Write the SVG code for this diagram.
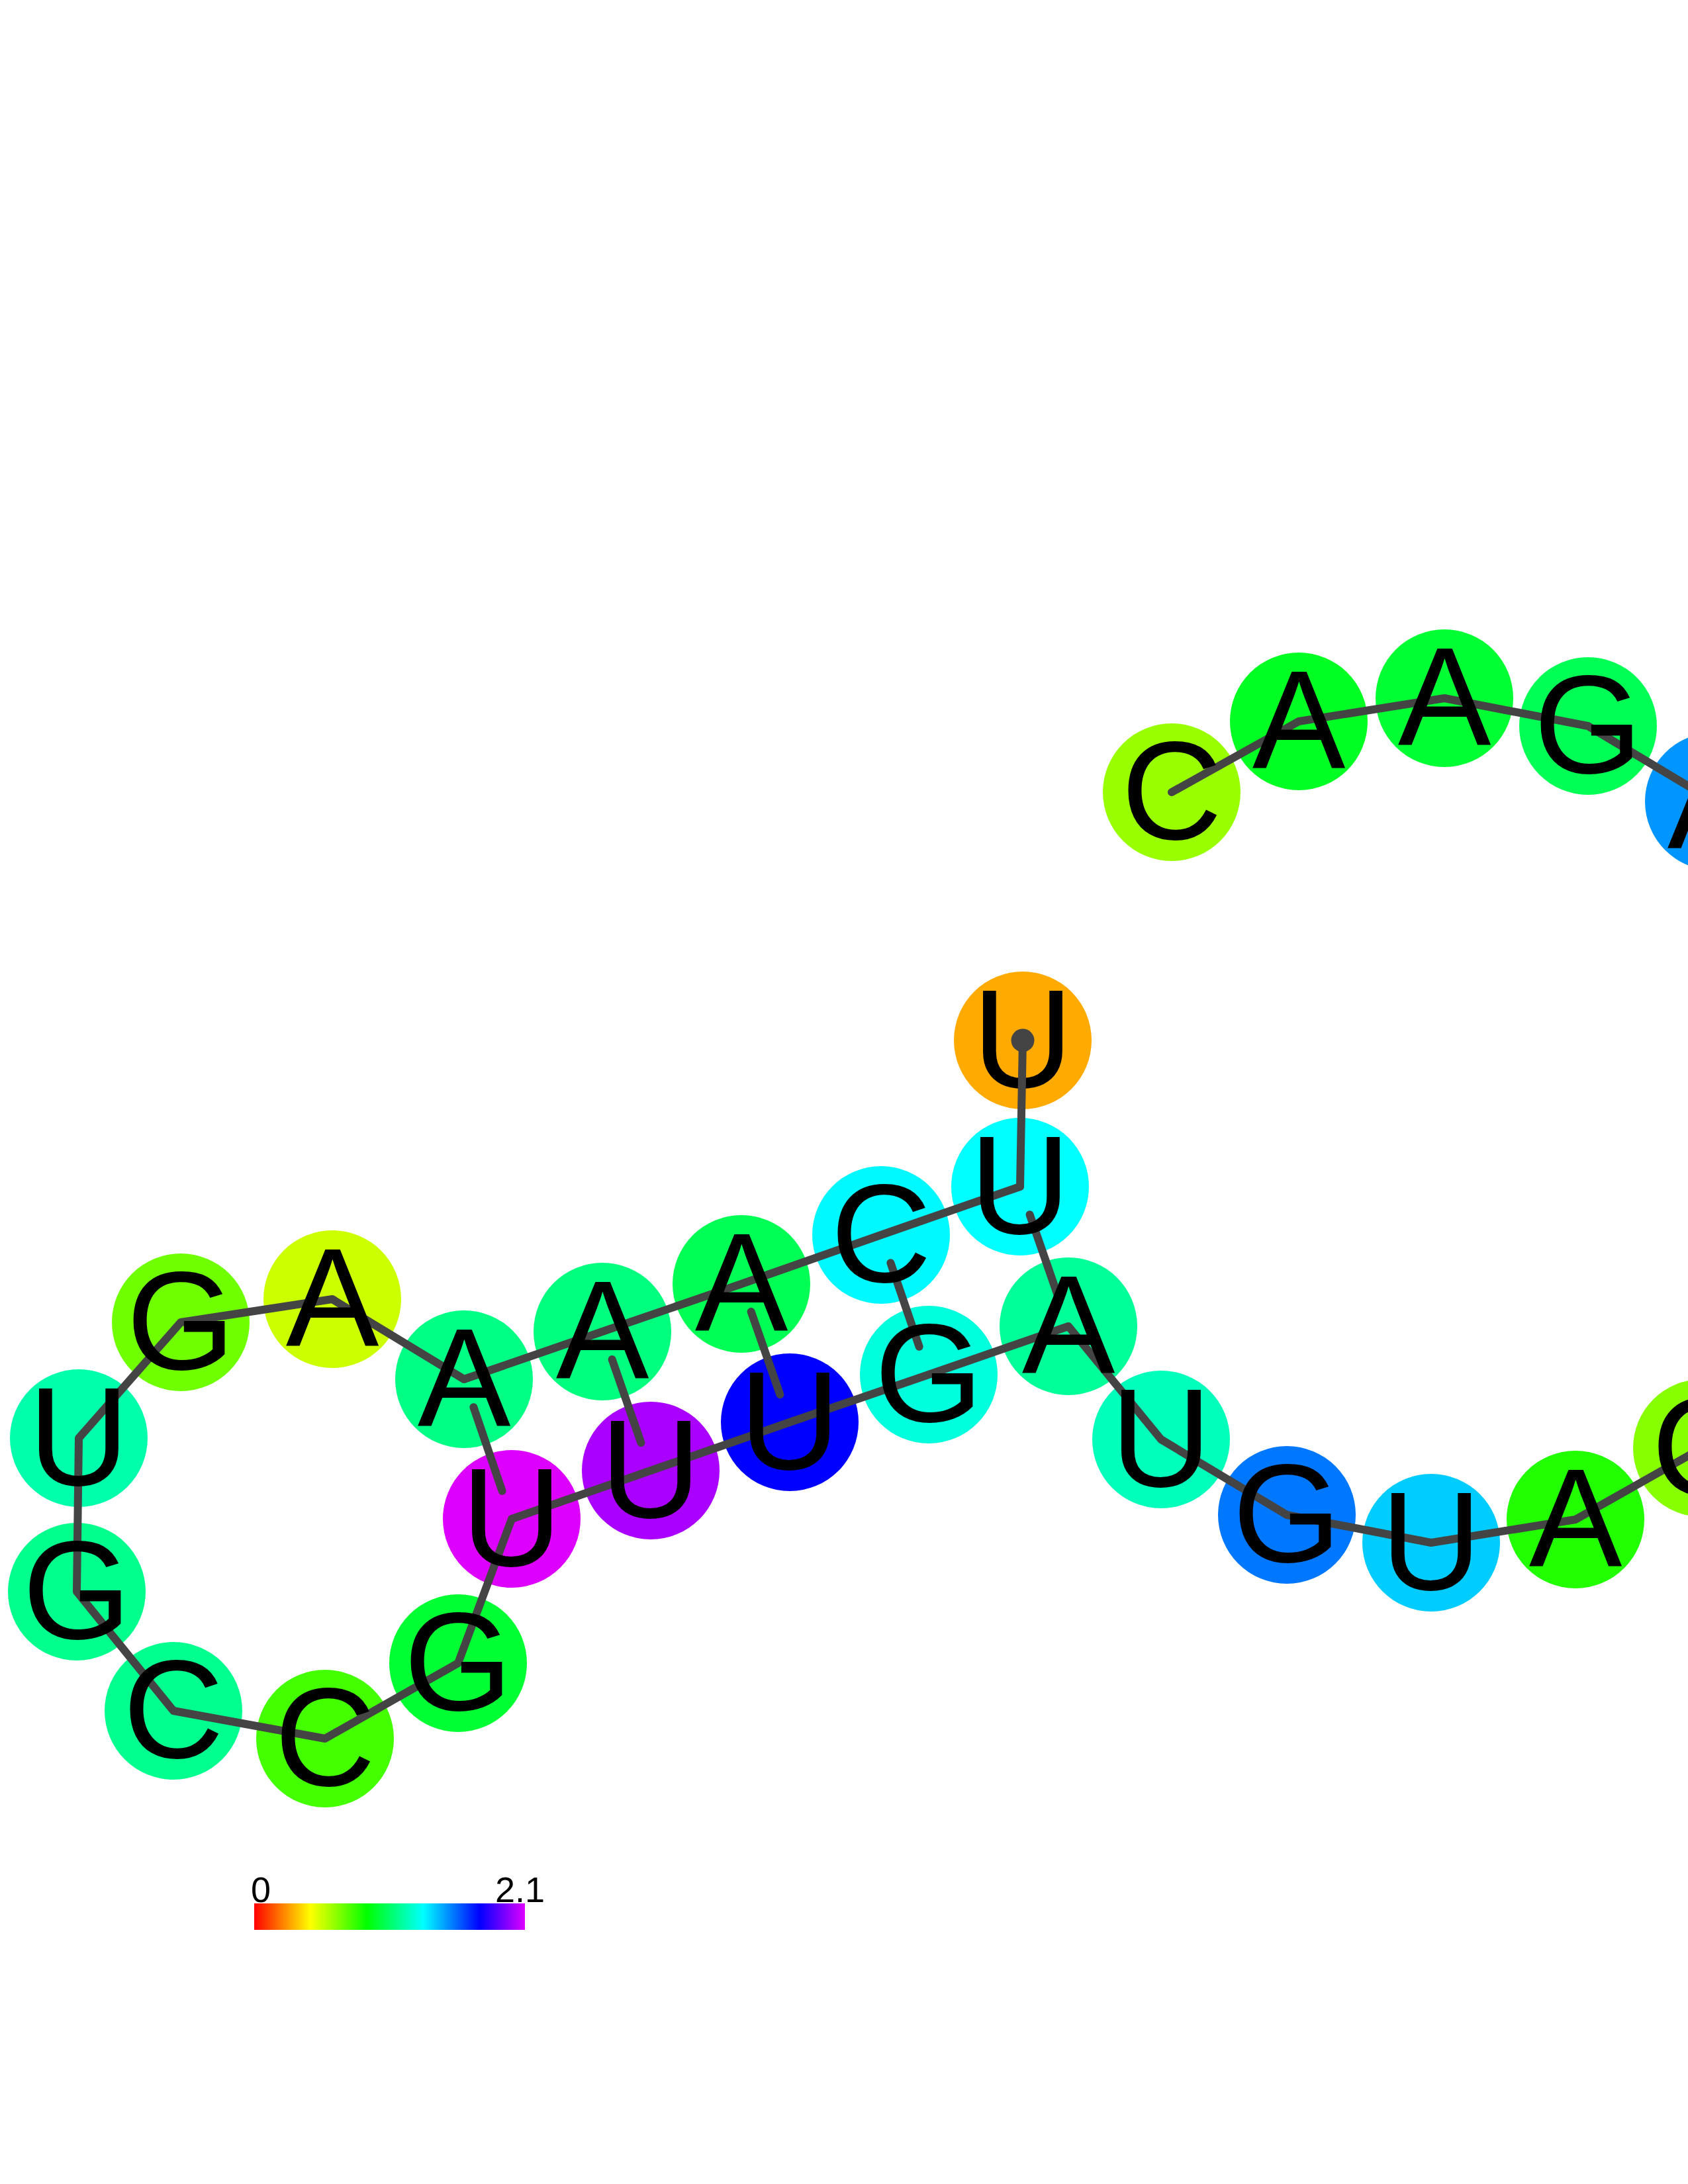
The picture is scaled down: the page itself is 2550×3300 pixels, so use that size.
<svg xmlns="http://www.w3.org/2000/svg" width="2550" height="3300" viewBox="0 0 2550 3300">
<defs>
<style>
.bk{fill:none;stroke:#444444;stroke-width:12;stroke-linecap:round;stroke-linejoin:round}
.bp{stroke:#444444;stroke-width:12;stroke-linecap:round}
.lb{font-family:"Liberation Sans",Arial,Helvetica,sans-serif;font-size:211px;text-anchor:middle;fill:#000000}
.lg{font-family:"Liberation Sans",Arial,Helvetica,sans-serif;font-size:54px;fill:#000000}
</style>
<linearGradient id="scale" x1="0" y1="0" x2="1" y2="0">
<stop offset="0" stop-color="#ff0000"/>
<stop offset="0.208" stop-color="#ffff00"/>
<stop offset="0.417" stop-color="#00ff00"/>
<stop offset="0.625" stop-color="#00ffff"/>
<stop offset="0.833" stop-color="#0000ff"/>
<stop offset="1" stop-color="#dd00ff"/>
</linearGradient>
</defs>
<rect x="0" y="0" width="2550" height="3300" fill="#ffffff"/>
<g id="nodes">
<g id="n1"><circle cx="1545" cy="1572" r="104" fill="#ffaa00"/></g>
<g id="n2"><circle cx="1541" cy="1793" r="104" fill="#00ffff"/></g>
<g id="n3"><circle cx="1331" cy="1866" r="104" fill="#00f8ff"/></g>
<g id="n4"><circle cx="1120" cy="1940" r="104" fill="#00ff55"/></g>
<g id="n5"><circle cx="910" cy="2012" r="104" fill="#00ff7f"/></g>
<g id="n6"><circle cx="701" cy="2084" r="104" fill="#00ff85"/></g>
<g id="n7"><circle cx="502" cy="1963" r="104" fill="#ccff00"/></g>
<g id="n8"><circle cx="273" cy="1998" r="104" fill="#6fff00"/></g>
<g id="n9"><circle cx="119" cy="2173" r="104" fill="#00ffaa"/></g>
<g id="n10"><circle cx="116" cy="2405" r="104" fill="#00ff8c"/></g>
<g id="n11"><circle cx="262" cy="2585" r="104" fill="#00ff8f"/></g>
<g id="n12"><circle cx="491" cy="2627" r="104" fill="#44ff00"/></g>
<g id="n13"><circle cx="692" cy="2513" r="104" fill="#00ff33"/></g>
<g id="n14"><circle cx="773" cy="2295" r="104" fill="#dd00ff"/></g>
<g id="n15"><circle cx="983" cy="2222" r="104" fill="#aa00ff"/></g>
<g id="n16"><circle cx="1193" cy="2149" r="104" fill="#0000ff"/></g>
<g id="n17"><circle cx="1403" cy="2077" r="104" fill="#00ffdd"/></g>
<g id="n18"><circle cx="1614" cy="2004" r="104" fill="#00ff99"/></g>
<g id="n19"><circle cx="1754" cy="2175" r="104" fill="#00ffbb"/></g>
<g id="n20"><circle cx="1944" cy="2289" r="104" fill="#0077ff"/></g>
<g id="n21"><circle cx="2162" cy="2331" r="104" fill="#00ccff"/></g>
<g id="n22"><circle cx="2380" cy="2296" r="104" fill="#22ff00"/></g>
<g id="n23"><circle cx="2571" cy="2188" r="104" fill="#88ff00"/></g>
<g id="n24"><circle cx="2589" cy="1211" r="104" fill="#0095ff"/></g>
<g id="n25"><circle cx="2399" cy="1097" r="104" fill="#00ff55"/></g>
<g id="n26"><circle cx="2182" cy="1055" r="104" fill="#00ff33"/></g>
<g id="n27"><circle cx="1962" cy="1090" r="104" fill="#00ff22"/></g>
<g id="n28"><circle cx="1770" cy="1197" r="104" fill="#99ff00"/></g>
</g>
<g id="connectors">
<polyline class="bk" points="1541,1793 1331,1866 1120,1940 910,2012 701,2084 502,1963 273,1998 119,2173 116,2405 262,2585 491,2627 692,2513 773,2295 983,2222 1193,2149 1403,2077 1614,2004 1754,2175 1944,2289 2162,2331 2380,2296 2571,2188"/>
<polyline class="bk" points="2589,1211 2399,1097 2182,1055 1962,1090 1770,1197"/>
<line class="bp" x1="1555.6" y1="1835.2" x2="1599.4" y2="1961.8"/>
<line class="bp" x1="1345.4" y1="1908.2" x2="1388.6" y2="2034.8"/>
<line class="bp" x1="1134.6" y1="1981.8" x2="1178.4" y2="2107.2"/>
<line class="bp" x1="924.6" y1="2054" x2="968.4" y2="2180"/>
<line class="bp" x1="715.4" y1="2126.2" x2="758.6" y2="2252.8"/>
</g>
<g id="labels">
<text class="lb" x="1545" y="1643">U</text>
<text class="lb" x="1541" y="1864">U</text>
<text class="lb" x="1331" y="1937">C</text>
<text class="lb" x="1120" y="2011">A</text>
<text class="lb" x="910" y="2083">A</text>
<text class="lb" x="701" y="2155">A</text>
<text class="lb" x="502" y="2034">A</text>
<text class="lb" x="273" y="2069">G</text>
<text class="lb" x="119" y="2244">U</text>
<text class="lb" x="116" y="2476">G</text>
<text class="lb" x="262" y="2656">C</text>
<text class="lb" x="491" y="2698">C</text>
<text class="lb" x="692" y="2584">G</text>
<text class="lb" x="773" y="2366">U</text>
<text class="lb" x="983" y="2293">U</text>
<text class="lb" x="1193" y="2220">U</text>
<text class="lb" x="1403" y="2148">G</text>
<text class="lb" x="1614" y="2075">A</text>
<text class="lb" x="1754" y="2246">U</text>
<text class="lb" x="1944" y="2360">G</text>
<text class="lb" x="2162" y="2402">U</text>
<text class="lb" x="2380" y="2367">A</text>
<text class="lb" x="2571" y="2259">C</text>
<text class="lb" x="2589" y="1282">A</text>
<text class="lb" x="2399" y="1168">G</text>
<text class="lb" x="2182" y="1126">A</text>
<text class="lb" x="1962" y="1161">A</text>
<text class="lb" x="1770" y="1268">C</text>
</g>
<g id="start-marker">
<line class="bp" x1="1545" y1="1572" x2="1541" y2="1793"/>
<circle cx="1545" cy="1572" r="17.5" fill="#444444"/>
</g>
<g id="legend">
<rect x="384" y="2876" width="409" height="40" fill="url(#scale)"/>
<text class="lg" x="379" y="2874">0</text>
<text class="lg" x="748" y="2874">2.1</text>
</g>
</svg>
